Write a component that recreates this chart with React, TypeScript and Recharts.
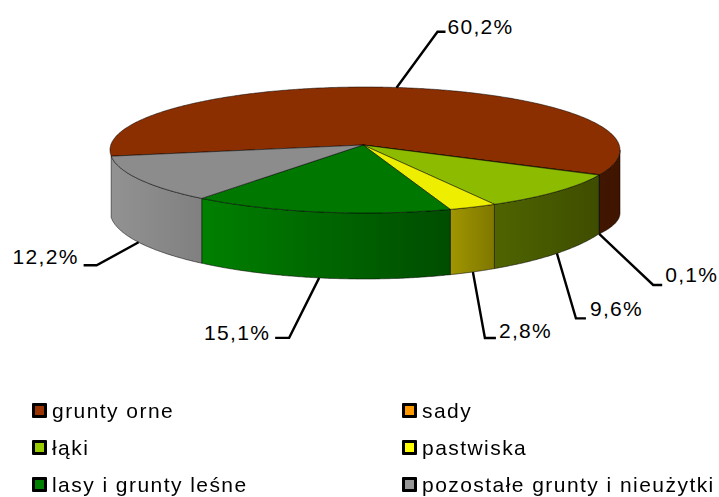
import React from 'react';
import { PieChart, Pie, Legend } from 'recharts';

const categories = ['grunty orne', 'sady', 'łąki', 'pastwiska', 'lasy i grunty leśne', 'pozostałe grunty i nieużytki'];
const shares = [60.2, 0.1, 9.6, 2.8, 15.1, 12.2];
const legendColors = ['#993300', '#FF9900', '#99CC00', '#FFFF00', '#008000', '#969696'];
const topColors = ['#8C2F00', '#E88B00', '#8DBB00', '#EEEE00', '#007800', '#8C8C8C'];
const wallFrom = ['#401600', '#663D00', '#4F6400', '#A09600', '#008000', '#929292'];
const wallTo = ['#3F1500', '#663D00', '#3E4D00', '#7F7700', '#004D00', '#808080'];

const W = 719, H = 497;
const CX = 365, CY = 150, RX = 255, RY = 63;
const FONT = '"Liberation Sans", Arial, sans-serif';
// elbow and label placement relative to the leader's start
const leaders = [
  { sx: -7, dx: 34, dy: -56, run: 8, tx: 2, ty: 3 },
  { sx: 0, dx: 54, dy: 51, run: 9, tx: 3, ty: -2 },
  { sx: 0, dx: 19, dy: 65, run: 10, tx: 4, ty: -1 },
  { sx: 0, dx: 12, dy: 66, run: 11, tx: 3, ty: 1 },
  { sx: 0, dx: -30, dy: 60, run: -14, tx: -5, ty: 3 },
  { sx: 0, dx: -42, dy: 23, run: -13, tx: -5, ty: 0 },
];

const warp = (theta: number) => {
  const r = (theta * Math.PI) / 180;
  return theta - 3.5 * Math.cos(r) - 1.2 * Math.sin(2 * r);
};
const depth = (phi: number) => {
  const r = (phi * Math.PI) / 180;
  const p = ((phi % 360) + 360) % 360;
  if (p < 24) return 63 - 4.1 * (p / 24);
  return Math.cos(r) > 0 ? 54 + 12 * Math.sin(r) : 61 + 5 * Math.sin(r);
};
const rim = (theta: number, withDepth = false) => {
  const phi = warp(theta);
  const r = (phi * Math.PI) / 180;
  return {
    x: CX + RX * Math.cos(r),
    y: CY + RY * Math.sin(r) + (withDepth ? depth(phi) : 0),
    phi,
  };
};
const fmt = (p: { x: number; y: number }) => `${p.x.toFixed(1)} ${p.y.toFixed(1)}`;

const Slice = (props: any) => {
  const a = -props.startAngle;
  const b = -props.endAngle;
  const idx = categories.indexOf(props.name ?? props.payload?.name);
  const thetas: number[] = [];
  const n = Math.max(2, Math.ceil((b - a) / 0.5));
  for (let i = 0; i <= n; i++) thetas.push(a + ((b - a) * i) / n);

  const top = `M${CX - 2} ${CY - 5} L` + thetas.map((t) => fmt(rim(t))).join(' L') + ' Z';

  const runs: number[][] = [];
  let cur: number[] = [];
  thetas.forEach((t) => {
    if (Math.sin((warp(t) * Math.PI) / 180) >= -0.001) cur.push(t);
    else if (cur.length) {
      runs.push(cur);
      cur = [];
    }
  });
  if (cur.length) runs.push(cur);

  return (
    <g>
      {runs
        .filter((run) => rim(run[0]).x > 120 || idx !== 0)
        .map((run, i) => {
          const upper = run.map((t) => rim(t));
          const lower = run.map((t) => rim(t, true)).reverse();
          const xs = upper.map((p) => p.x);
          const id = `wall-${idx}-${i}`;
          return (
            <g key={id}>
              <defs>
                <linearGradient id={id} gradientUnits="userSpaceOnUse" x1={Math.min(...xs)} x2={Math.max(...xs) + 0.01} y1={0} y2={0}>
                  <stop offset="0%" stopColor={wallFrom[idx]} />
                  <stop offset="100%" stopColor={wallTo[idx]} />
                </linearGradient>
              </defs>
              <path
                d={'M' + upper.map(fmt).join(' L') + ' L' + lower.map(fmt).join(' L') + ' Z'}
                fill={`url(#${id})`}
                stroke="#000"
                strokeOpacity={0.65}
                strokeWidth={0.8}
              />
            </g>
          );
        })}
      <path d={top} fill={topColors[idx]} stroke="#000" strokeOpacity={0.65} strokeWidth={0.8} />
    </g>
  );
};

const SliceLabel = (props: any) => {
  const i = props.index;
  const s = leaders[i];
  const theta = -props.midAngle;
  const p = rim(theta, i !== 0);
  const sx = p.x + s.sx;
  const ex = p.x + s.dx, ey = p.y + s.dy;
  const lx = ex + s.run;
  const text = shares[i].toFixed(1).replace('.', ',') + '%';
  return (
    <g>
      <polyline points={`${sx},${p.y} ${ex},${ey} ${lx},${ey}`} fill="none" stroke="#000" strokeWidth={2.4} />
      <text
        x={lx + s.tx}
        y={ey + s.ty}
        dy={-1}
        textAnchor={s.run > 0 ? 'start' : 'end'}
        fontFamily={FONT}
        fontSize={21}
        letterSpacing={1.3}
        fill="#000"
      >
        {text}
      </text>
    </g>
  );
};

const LegendBox = ({ payload }: any) => {
  const items = categories.map((name, i) => ({ name, i }));
  return (
    <div style={{ display: 'grid', gridTemplateColumns: '370px 316px', gridAutoRows: '37px', fontFamily: FONT, fontSize: 21, letterSpacing: 1.45, color: '#000' }}>
      {items.map(({ name, i }) => {
        const entry = (payload ?? []).find((e: any) => e.value === name);
        return (
          <div key={name} style={{ display: 'flex', alignItems: 'center', whiteSpace: 'nowrap', height: 37 }}>
            <span style={{ width: 9, height: 9, border: '3px solid #000', background: entry?.color ?? legendColors[i], marginRight: 5, flex: 'none', borderRadius: 1 }} />
            <span>{name}</span>
          </div>
        );
      })}
    </div>
  );
};

const rows = categories.map((name, i) => ({ name, value: shares[i], fill: legendColors[i] }));

export default function App() {
  return (
    <div style={{ position: 'fixed', left: 0, top: 0, width: W, height: H, background: '#fff' }}>
      <PieChart width={W} height={H} margin={{ top: 0, right: 0, bottom: 0, left: 0 }}>
        <Pie
          data={rows}
          dataKey="value"
          nameKey="name"
          cx={CX}
          cy={CY}
          outerRadius={RX}
          startAngle={189.5}
          endAngle={-170.5}
          paddingAngle={0}
          shape={Slice}
          label={SliceLabel}
          labelLine={false}
          isAnimationActive={false}
        />
        <Legend
          content={<LegendBox />}
          wrapperStyle={{ position: 'absolute', left: 32, top: 392, width: 690, bottom: 'auto' }}
        />
      </PieChart>
    </div>
  );
}
